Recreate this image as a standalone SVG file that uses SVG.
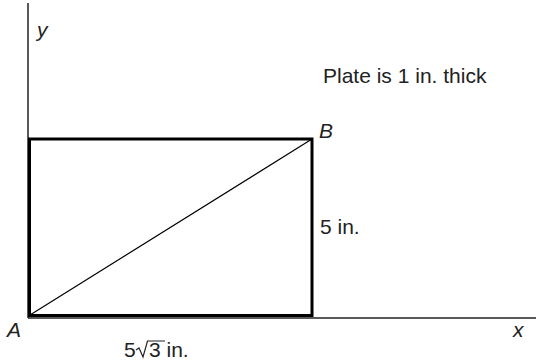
<svg xmlns="http://www.w3.org/2000/svg" width="536" height="364" viewBox="0 0 536 364">
<style>
text{font-family:"Liberation Sans",Arial,sans-serif;font-size:21px;fill:#222}
.i{font-style:italic}
.ax{stroke:#222;stroke-width:1.5;fill:none}
.pl{stroke:#000;stroke-width:3;fill:none}
</style>
<rect width="536" height="364" fill="#fff"/>
<g id="connectors">
<line class="ax" x1="28" y1="3" x2="28" y2="318"/>
<line class="ax" x1="28" y1="318" x2="536" y2="318"/>
</g>
<g id="plate">
<rect class="pl" x="29.5" y="139" width="282.5" height="176.5"/>
<line x1="30" y1="315" x2="312" y2="139" stroke="#000" stroke-width="1.2"/>
</g>
<g id="labels">
<text class="i" x="37" y="37">y</text>
<text x="323" y="83">Plate is 1 in. thick</text>
<text class="i" x="319" y="138">B</text>
<text x="320" y="234">5 in.</text>
<text class="i" x="7" y="337">A</text>
<text class="i" x="513" y="337">x</text>
<text x="124" y="357">5</text>
<path d="M136 350 L139 348 L143 357 L147.5 341 L165 341" fill="none" stroke="#222" stroke-width="1.2"/>
<text x="149" y="357">3 in.</text>
</g>
</svg>
